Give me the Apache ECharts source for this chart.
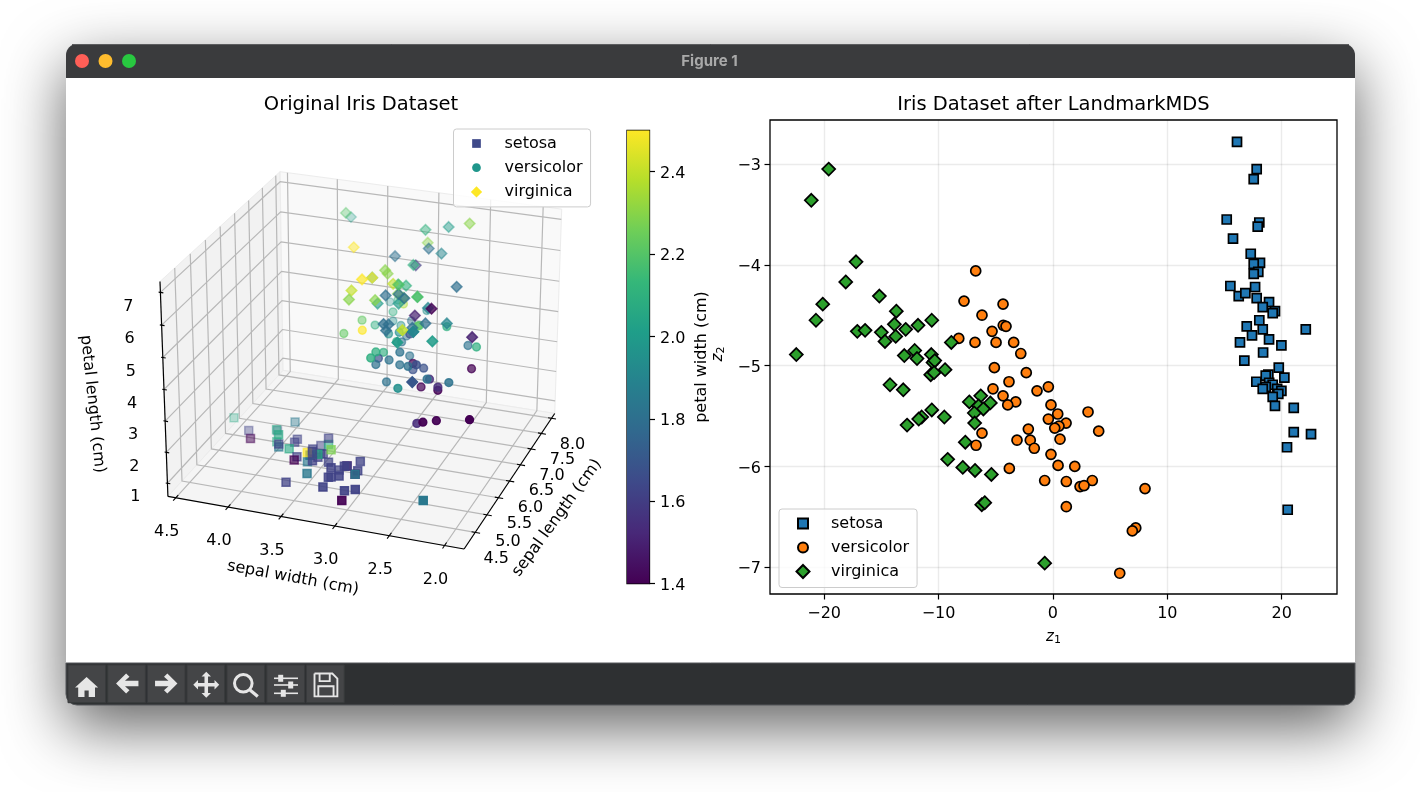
<!DOCTYPE html>
<html>
<head>
<meta charset="utf-8">
<style>html,body{margin:0;padding:0;background:#fff}#c{width:1420px;height:792px}</style>
<script src="https://cdn.jsdelivr.net/npm/echarts@6/dist/echarts.min.js"></script>
</head>
<body>
<div id="c"></div>
<script>
// ---------- data: [sepal length, sepal width, petal length, petal width]
const setosa3d = [[5.1,3.5,1.4,.2],[4.9,3,1.4,.2],[4.7,3.2,1.3,.2],[4.6,3.1,1.5,.2],[5,3.6,1.4,.2],[5.4,3.9,1.7,.4],[4.6,3.4,1.4,.3],[5,3.4,1.5,.2],[4.4,2.9,1.4,.2],[4.9,3.1,1.5,.1],[5.4,3.7,1.5,.2],[4.8,3.4,1.6,.2],[4.8,3,1.4,.1],[4.3,3,1.1,.1],[5.8,4,1.2,.2],[5.7,4.4,1.5,.4],[5.4,3.9,1.3,.4],[5.1,3.5,1.4,.3],[5.7,3.8,1.7,.3],[5.1,3.8,1.5,.3],[5.4,3.4,1.7,.2],[5.1,3.7,1.5,.4],[4.6,3.6,1,.2],[5.1,3.3,1.7,.5],[4.8,3.4,1.9,.2],[5,3,1.6,.2],[5,3.4,1.6,.4],[5.2,3.5,1.5,.2],[5.2,3.4,1.4,.2],[4.7,3.2,1.6,.2],[4.8,3.1,1.6,.2],[5.4,3.4,1.5,.4],[5.2,4.1,1.5,.1],[5.5,4.2,1.4,.2],[4.9,3.1,1.5,.2],[5,3.2,1.2,.2],[5.5,3.5,1.3,.2],[4.9,3.6,1.4,.1],[4.4,3,1.3,.2],[5.1,3.4,1.5,.2],[5,3.5,1.3,.3],[4.5,2.3,1.3,.3],[4.4,3.2,1.3,.2],[5,3.5,1.6,.6],[5.1,3.8,1.9,.4],[4.8,3,1.4,.3],[5.1,3.8,1.6,.2],[4.6,3.2,1.4,.2],[5.3,3.7,1.5,.2],[5,3.3,1.4,.2]];
const versicolor3d = [[7,3.2,4.7,1.4],[6.4,3.2,4.5,1.5],[6.9,3.1,4.9,1.5],[5.5,2.3,4,1.3],[6.5,2.8,4.6,1.5],[5.7,2.8,4.5,1.3],[6.3,3.3,4.7,1.6],[4.9,2.4,3.3,1],[6.6,2.9,4.6,1.3],[5.2,2.7,3.9,1.4],[5,2,3.5,1],[5.9,3,4.2,1.5],[6,2.2,4,1],[6.1,2.9,4.7,1.4],[5.6,2.9,3.6,1.3],[6.7,3.1,4.4,1.4],[5.6,3,4.5,1.5],[5.8,2.7,4.1,1],[6.2,2.2,4.5,1.5],[5.6,2.5,3.9,1.1],[5.9,3.2,4.8,1.8],[6.1,2.8,4,1.3],[6.3,2.5,4.9,1.5],[6.1,2.8,4.7,1.2],[6.4,2.9,4.3,1.3],[6.6,3,4.4,1.4],[6.8,2.8,4.8,1.4],[6.7,3,5,1.7],[6,2.9,4.5,1.5],[5.7,2.6,3.5,1],[5.5,2.4,3.8,1.1],[5.5,2.4,3.7,1],[5.8,2.7,3.9,1.2],[6,2.7,5.1,1.6],[5.4,3,4.5,1.5],[6,3.4,4.5,1.6],[6.7,3.1,4.7,1.5],[6.3,2.3,4.4,1.3],[5.6,3,4.1,1.3],[5.5,2.5,4,1.3],[5.5,2.6,4.4,1.2],[6.1,3,4.6,1.4],[5.8,2.6,4,1.2],[5,2.3,3.3,1],[5.6,2.7,4.2,1.3],[5.7,3,4.2,1.2],[5.7,2.9,4.2,1.3],[6.2,2.9,4.3,1.3],[5.1,2.5,3,1.1],[5.7,2.8,4.1,1.3]];
const virginica3d = [[6.3,3.3,6,2.5],[5.8,2.7,5.1,1.9],[7.1,3,5.9,2.1],[6.3,2.9,5.6,1.8],[6.5,3,5.8,2.2],[7.6,3,6.6,2.1],[4.9,2.5,4.5,1.7],[7.3,2.9,6.3,1.8],[6.7,2.5,5.8,1.8],[7.2,3.6,6.1,2.5],[6.5,3.2,5.1,2],[6.4,2.7,5.3,1.9],[6.8,3,5.5,2.1],[5.7,2.5,5,2],[5.8,2.8,5.1,2.4],[6.4,3.2,5.3,2.3],[6.5,3,5.5,1.8],[7.7,3.8,6.7,2.2],[7.7,2.6,6.9,2.3],[6,2.2,5,1.5],[6.9,3.2,5.7,2.3],[5.6,2.8,4.9,2],[7.7,2.8,6.7,2],[6.3,2.7,4.9,1.8],[6.7,3.3,5.7,2.1],[7.2,3.2,6,1.8],[6.2,2.8,4.8,1.8],[6.1,3,4.9,1.8],[6.4,2.8,5.6,2.1],[7.2,3,5.8,1.6],[7.4,2.8,6.1,1.9],[7.9,3.8,6.4,2],[6.4,2.8,5.6,2.2],[6.3,2.8,5.1,1.5],[6.1,2.6,5.6,1.4],[7.7,3,6.1,2.3],[6.3,3.4,5.6,2.4],[6.4,3.1,5.5,1.8],[6,3,4.8,1.8],[6.9,3.1,5.4,2.1],[6.7,3.1,5.6,2.4],[6.9,3.1,5.1,2.3],[5.8,2.7,5.1,1.9],[6.8,3.2,5.9,2.3],[6.7,3.3,5.7,2.5],[6.7,3,5.2,2.3],[6.3,2.5,5,1.9],[6.5,3,5.2,2],[6.2,3.4,5.4,2.3],[5.9,3,5.1,1.8]];

// ---------- data: [z1, z2] after LandmarkMDS
const setosaMds = [[16.09,-2.78],[17.81,-3.05],[17.55,-3.15],[15.19,-3.55],[18.04,-3.58],[17.9,-3.62],[15.74,-3.74],[17.29,-3.89],[18.1,-3.98],[17.55,-3.99],[17.95,-4.07],[17.55,-4.09],[15.51,-4.21],[17.67,-4.22],[16.24,-4.31],[16.82,-4.28],[17.81,-4.33],[18.89,-4.37],[18.34,-4.42],[19.41,-4.46],[19.21,-4.48],[18.04,-4.55],[16.94,-4.61],[18.34,-4.64],[22.1,-4.64],[17.4,-4.7],[18.89,-4.74],[16.35,-4.77],[19.97,-4.8],[18.37,-4.87],[16.73,-4.95],[19.74,-5.02],[18.83,-5.09],[18.6,-5.1],[20.23,-5.12],[17.78,-5.16],[18.9,-5.17],[19.21,-5.19],[18.6,-5.21],[18.34,-5.23],[19.6,-5.23],[19.97,-5.25],[19.7,-5.28],[19.21,-5.31],[19.41,-5.4],[21.05,-5.42],[21.05,-5.66],[22.56,-5.68],[20.46,-5.81],[20.52,-6.43]];
const versicolorMds = [[-6.75,-4.06],[-7.77,-4.36],[-4.36,-4.39],[-6.2,-4.5],[-4.34,-4.6],[-4.1,-4.61],[-5.32,-4.66],[-8.23,-4.73],[-6.81,-4.77],[-4.97,-4.77],[-3.43,-4.77],[-2.81,-4.88],[-5.12,-5.02],[-2.33,-5.07],[-3.84,-5.16],[-0.4,-5.21],[-5.24,-5.23],[-1.39,-5.25],[-4.36,-5.3],[-3.25,-5.36],[-3.95,-5.39],[-0.17,-5.39],[0.42,-5.48],[3.07,-5.46],[-0.4,-5.53],[1.15,-5.57],[0.53,-5.6],[0.16,-5.62],[-2.15,-5.63],[4,-5.65],[-6.2,-5.67],[-3.14,-5.74],[-1.98,-5.74],[0.62,-5.73],[-1.63,-5.82],[-6.72,-5.79],[-0.17,-5.88],[0.45,-5.99],[1.91,-6],[-3.81,-6.02],[-0.72,-6.14],[1.17,-6.15],[3.44,-6.14],[2.37,-6.2],[2.72,-6.19],[8.05,-6.22],[1.17,-6.4],[7.24,-6.61],[6.94,-6.64],[5.84,-7.06]];
const virginicaMds = [[-19.6,-3.05],[-21.12,-3.36],[-17.21,-3.97],[-18.11,-4.17],[-15.17,-4.31],[-20.12,-4.39],[-13.69,-4.46],[-20.71,-4.55],[-10.59,-4.55],[-11.79,-4.6],[-13.86,-4.59],[-12.87,-4.64],[-17.1,-4.66],[-16.42,-4.65],[-15,-4.67],[-13.74,-4.71],[-14.68,-4.76],[-8.88,-4.77],[-22.43,-4.89],[-12.99,-4.9],[-12.08,-4.85],[-11.88,-4.93],[-10.63,-4.89],[-10.48,-4.97],[-10.33,-4.95],[-9.43,-5.04],[-10.68,-5.09],[-10.39,-5.07],[-14.24,-5.19],[-13.08,-5.24],[-6.31,-5.3],[-7.31,-5.36],[-5.47,-5.37],[-6.5,-5.4],[-6.08,-5.43],[-6.87,-5.47],[-10.59,-5.44],[-9.49,-5.51],[-11.47,-5.51],[-11.73,-5.53],[-12.75,-5.59],[-6.84,-5.57],[-7.66,-5.76],[-9.2,-5.93],[-7.88,-6.01],[-6.81,-6.04],[-5.38,-6.08],[-6.22,-6.38],[-5.96,-6.36],[-0.72,-6.96]];

// ---------- tick labels and names
const classNames = ['setosa','versicolor','virginica'];
const xTicks3d = [4.5,5,5.5,6,6.5,7,7.5,8];
const yTicks3d = [2,2.5,3,3.5,4,4.5];
const zTicks3d = [1,2,3,4,5,6,7];
const colorbarTicks = [1.4,1.6,1.8,2,2.2,2.4];
const mdsXTicks = [-20,-10,0,10,20];
const mdsYTicks = [-7,-6,-5,-4,-3];

// ---------- style constants
const FONT = '"DejaVu Sans"';
const VIRIDIS = ['#440154','#482878','#3e4989','#31688e','#26828e','#1f9e89','#35b779','#6ece58','#b5de2b','#fde725'];
const LIM = {x:[4.0375,8.1625], y:[1.825,4.575], z:[0.57,7.33]};
const ELEV = 25*Math.PI/180, AZIM = -160*Math.PI/180, DIST = 10;
const BOX = [1.1906,1.1906,0.8929];

// viridis
function hex(c){return [1,3,5].map(i=>parseInt(c.slice(i,i+2),16));}
function viridis(t){
  t=Math.max(0,Math.min(1,t))*(VIRIDIS.length-1);
  const i=Math.min(Math.floor(t),VIRIDIS.length-2),f=t-i,a=hex(VIRIDIS[i]),b=hex(VIRIDIS[i+1]);
  return a.map((v,k)=>Math.round(v+(b[k]-v)*f));
}
// matplotlib-style perspective projection
const R=BOX.map(b=>b/2);
const W=[Math.cos(ELEV)*Math.cos(AZIM),Math.cos(ELEV)*Math.sin(AZIM),Math.sin(ELEV)];
const EYE=R.map((r,i)=>r+DIST*W[i]);
const un=Math.hypot(W[0],W[1]);
const U=[-W[1]/un,W[0]/un,0];
const V=[W[1]*U[2]-W[2]*U[1],W[2]*U[0]-W[0]*U[2],W[0]*U[1]-W[1]*U[0]];
function proj(x,y,z){
  const p=[(x-LIM.x[0])/(LIM.x[1]-LIM.x[0])*BOX[0],(y-LIM.y[0])/(LIM.y[1]-LIM.y[0])*BOX[1],(z-LIM.z[0])/(LIM.z[1]-LIM.z[0])*BOX[2]];
  const d=p.map((v,i)=>v-EYE[i]);
  const dot=a=>a[0]*d[0]+a[1]*d[1]+a[2]*d[2];
  const depth=-dot(W);
  return [dot(U)/depth,dot(V)/depth,depth];
}
// projected bounding box of the 3D box sets the hidden cartesian's range
const corners=[];
LIM.x.forEach(x=>LIM.y.forEach(y=>LIM.z.forEach(z=>corners.push(proj(x,y,z)))));
const pxMin=Math.min(...corners.map(c=>c[0])),pxMax=Math.max(...corners.map(c=>c[0]));
const pyMin=Math.min(...corners.map(c=>c[1])),pyMax=Math.max(...corners.map(c=>c[1]));

function scatterData(rows){
  const pw=rows.map(r=>r[3]),lo=Math.min(...pw),hi=Math.max(...pw);
  const pts=rows.map(r=>({p:proj(r[0],r[1],r[2]),c:(r[3]-lo)/(hi-lo)}));
  const ds=pts.map(o=>o.p[2]),dlo=Math.min(...ds),dhi=Math.max(...ds);
  pts.sort((a,b)=>b.p[2]-a.p[2]);
  return pts.map(o=>{
    const a=1-0.7*(o.p[2]-dlo)/(dhi-dlo),col=viridis(o.c);
    const s=`rgba(${col[0]},${col[1]},${col[2]},${a.toFixed(3)})`;
    return {value:[o.p[0],o.p[1]],itemStyle:{color:s,borderColor:s}};
  });
}

function renderBox(params,api){
  const c=(x,y,z)=>{const p=proj(x,y,z);return api.coord([p[0],p[1]]);};
  const [x0,x1]=LIM.x,[y0,y1]=LIM.y,[z0,z1]=LIM.z;
  const ch=[];
  const poly=(pts,fill)=>ch.push({type:'polygon',shape:{points:pts},style:{fill,stroke:'#ececec',lineWidth:1}});
  const line=(pts,stroke,w)=>ch.push({type:'polyline',shape:{points:pts},style:{fill:'none',stroke,lineWidth:w}});
  const text=(t,p,dx,dy)=>ch.push({type:'text',style:{text:t,x:p[0]+dx,y:p[1]+dy,fill:'#000',font:'16px '+FONT,align:'center',verticalAlign:'middle'}});
  const GRID='#b8b8b8';
  poly([c(x0,y1,z0),c(x1,y1,z0),c(x1,y1,z1),c(x0,y1,z1)],'#f2f2f2');
  poly([c(x1,y0,z0),c(x1,y1,z0),c(x1,y1,z1),c(x1,y0,z1)],'#f9f9f9');
  poly([c(x0,y0,z0),c(x1,y0,z0),c(x1,y1,z0),c(x0,y1,z0)],'#f5f5f5');
  xTicks3d.forEach(x=>line([c(x,y0,z0),c(x,y1,z0),c(x,y1,z1)],GRID,1.2));
  yTicks3d.forEach(y=>line([c(x0,y,z0),c(x1,y,z0),c(x1,y,z1)],GRID,1.2));
  zTicks3d.forEach(z=>line([c(x0,y1,z),c(x1,y1,z),c(x1,y0,z)],GRID,1.2));
  line([c(x0,y0,z0),c(x1,y0,z0)],'#000',1.2);
  line([c(x0,y0,z0),c(x0,y1,z0)],'#000',1.2);
  line([c(x0,y1,z0),c(x0,y1,z1)],'#000',1.2);
  const dy=y1-y0,dx=x1-x0;
  xTicks3d.forEach(x=>{line([c(x,y0-0.016*dy,z0),c(x,y0+0.012*dy,z0)],'#000',1.1);text(x.toFixed(1),c(x,y0,z0),21,26.5);});
  yTicks3d.forEach(y=>{line([c(x0-0.02*dx,y,z0),c(x0+0.02*dx,y,z0)],'#000',1.1);text(y.toFixed(1),c(x0,y,z0),-9,34);});
  zTicks3d.forEach(z=>{line([c(x0,y1+0.006*dy,z),c(x0,y1-0.01*dy,z)],'#000',1.1);text(String(z),c(x0,y1,z),-32,14);});
  return {type:'group',children:ch};
}

// ---------- legend icons (padded so every marker keeps its own size inside the same slot)
const PAD='path://M0,0M16,16';
const iconRect=s=>{const a=8-s/2,b=8+s/2;return `${PAD}M${a},${a}L${b},${a}L${b},${b}L${a},${b}Z`;};
const iconDiamond=s=>{const r=s/2;return `${PAD}M8,${8-r}L${8+r},8L8,${8+r}L${8-r},8Z`;};
const iconCircle=s=>{const r=s/2;return `${PAD}M${8-r},8A${r},${r},0,1,1,${8+r},8A${r},${r},0,1,1,${8-r},8Z`;};
const legendBase={orient:'vertical',itemWidth:46,itemHeight:16,borderColor:'#ccc',borderWidth:1,borderRadius:3,backgroundColor:'rgba(255,255,255,0.8)',selectedMode:false,
  textStyle:{fontFamily:FONT,fontSize:16,color:'#000'},formatter:n=>n.replace('3D ','')};

const axisText={fontFamily:FONT,fontSize:16,color:'#000'};
const lowered={a:{fontFamily:FONT,fontSize:16,color:'#000',padding:[4,0,0,0]}};
const minus=v=>String(v).replace('-','\u2212');
const subRich={i:{fontFamily:FONT,fontSize:15,fontStyle:'italic',color:'#000'},s:{fontFamily:FONT,fontSize:11,color:'#000',verticalAlign:'bottom',padding:[6,0,0,0]}};

const series=[
  {type:'custom',xAxisIndex:0,yAxisIndex:0,data:[0],renderItem:renderBox,z:1,silent:true,clip:false,animation:false},
  {name:'3D setosa',type:'scatter',xAxisIndex:0,yAxisIndex:0,symbol:'rect',symbolSize:8,z:3,silent:true,itemStyle:{borderWidth:1.5,opacity:1},data:scatterData(setosa3d)},
  {name:'3D versicolor',type:'scatter',xAxisIndex:0,yAxisIndex:0,symbol:'circle',symbolSize:7.8,z:3,silent:true,itemStyle:{borderWidth:1.5,opacity:1},data:scatterData(versicolor3d)},
  {name:'3D virginica',type:'scatter',xAxisIndex:0,yAxisIndex:0,symbol:'diamond',symbolSize:10.6,z:3,silent:true,itemStyle:{borderWidth:1.5,opacity:1},data:scatterData(virginica3d)},
  {name:classNames[0],type:'scatter',xAxisIndex:1,yAxisIndex:1,symbol:'rect',symbolSize:9,z:3,silent:true,itemStyle:{color:'#1f77b4',borderColor:'#000',borderWidth:1.7,opacity:1},data:setosaMds},
  {name:classNames[1],type:'scatter',xAxisIndex:1,yAxisIndex:1,symbol:'circle',symbolSize:10,z:3,silent:true,itemStyle:{color:'#ff7f0e',borderColor:'#000',borderWidth:1.7,opacity:1},data:versicolorMds},
  {name:classNames[2],type:'scatter',xAxisIndex:1,yAxisIndex:1,symbol:'diamond',symbolSize:13,z:3,silent:true,itemStyle:{color:'#2ca02c',borderColor:'#000',borderWidth:1.7,opacity:1},data:virginicaMds},
  {type:'bar',xAxisIndex:2,yAxisIndex:2,data:[2.5],barWidth:'100%',z:1,silent:true,itemStyle:{color:{type:'linear',x:0,y:1,x2:0,y2:0,colorStops:VIRIDIS.map((c,i)=>({offset:i/(VIRIDIS.length-1),color:c}))}}}
];

// ---------- window chrome
const BTN_X=[68,107.7,147.3,187,227,266.8,306.5];
const ICON='#e6e6e6';
const scalePts=(pts,x,y,s)=>pts.map(p=>[x+p[0]*s,y+p[1]*s]);
const HOME=[[12,3],[1,13],[4,13],[4,22],[10,22],[10,16],[14,16],[14,22],[20,22],[20,13],[23,13]];
const LEFT=[[11,3],[2,12],[11,21],[14,18],[10,14.5],[22,14.5],[22,9.5],[10,9.5],[14,6]];
const RIGHT=[[13,3],[22,12],[13,21],[10,18],[14,14.5],[2,14.5],[2,9.5],[14,9.5],[10,6]];
const MOVE=[[12,1],[16,5],[13.5,5],[13.5,10.5],[19,10.5],[19,8],[23,12],[19,16],[19,13.5],[13.5,13.5],[13.5,19],[16,19],[12,23],[8,19],[10.5,19],[10.5,13.5],[5,13.5],[5,16],[1,12],[5,8],[5,10.5],[10.5,10.5],[10.5,5],[8,5]];
const SAVE=[[3,3],[17,3],[21,7],[21,21],[3,21],[3,3]];
const SAVE_TOP=[[7,3],[7,9],[15,9],[15,3]];
const SAVE_BOT=[[6,21],[6,13],[18,13],[18,21]];
const filled=(pts,x,y,s)=>({type:'polygon',z:-5,silent:true,shape:{points:scalePts(pts,x,y,s)},style:{fill:ICON}});
const stroked=(pts,x,y,s)=>({type:'polyline',z:-5,silent:true,shape:{points:scalePts(pts,x,y,s)},style:{fill:'none',stroke:ICON,lineWidth:1.9}});
const graphic=[
  {type:'rect',z:-10,silent:true,shape:{x:66,y:44,width:1289,height:661,r:11},style:{fill:'#fff',shadowBlur:62,shadowOffsetY:22,shadowColor:'rgba(0,0,0,0.62)'}},
  {type:'rect',z:-9,silent:true,shape:{x:66,y:44,width:1289,height:34,r:[11,11,0,0]},style:{fill:'#3a3b3d'}},
  {type:'rect',z:-9,silent:true,shape:{x:66,y:663,width:1289,height:42,r:[0,0,11,11]},style:{fill:'#2e3032',stroke:'#55575a',lineWidth:1}},
  {type:'line',z:-8,silent:true,shape:{x1:72,y1:44.5,x2:1349,y2:44.5},style:{stroke:'#5c5d5f',lineWidth:1}},
  {type:'circle',z:-8,silent:true,shape:{cx:82,cy:61,r:7},style:{fill:'#ff5f57'}},
  {type:'circle',z:-8,silent:true,shape:{cx:105.5,cy:61,r:7},style:{fill:'#febc2e'}},
  {type:'circle',z:-8,silent:true,shape:{cx:129,cy:61,r:7},style:{fill:'#28c840'}},
  {type:'text',z:-8,silent:true,x:709.5,y:61,style:{text:'Figure 1',fill:'#a9a9a9',font:'bold 15px Inter',align:'center',verticalAlign:'middle'}},
  ...BTN_X.map(x=>({type:'rect',z:-8,silent:true,shape:{x,y:665,width:37.7,height:37.7},style:{fill:'#444547',stroke:'#383a3c',lineWidth:1}})),
  filled(HOME,74,673.8,1.05),
  filled(LEFT,113.8,670.1,1.12),
  filled(RIGHT,152.8,670.1,1.12),
  filled(MOVE,192.1,670.5,1.18),
  {type:'circle',z:-5,silent:true,shape:{cx:243.3,cy:683.3,r:8.8},style:{fill:'none',stroke:ICON,lineWidth:3}},
  {type:'line',z:-5,silent:true,shape:{x1:250,y1:690,x2:257.8,y2:696.5},style:{stroke:ICON,lineWidth:3.2}},
  ...[[678.3,280.7],[685,290.7],[693.3,283.3]].flatMap(([y,x])=>[
    {type:'line',z:-5,silent:true,shape:{x1:274,y1:y,x2:298,y2:y},style:{stroke:ICON,lineWidth:1.6}},
    {type:'rect',z:-5,silent:true,shape:{x:x-2.5,y:y-3.5,width:5,height:7},style:{fill:ICON}}]),
  stroked(SAVE,310.7,669.7,1.27),stroked(SAVE_TOP,310.7,669.7,1.27),stroked(SAVE_BOT,310.7,669.7,1.27),
  // 3D axis titles
  {type:'text',z:5,silent:true,x:92.5,y:404,rotation:-84*Math.PI/180,style:{text:'petal length (cm)',fill:'#000',font:'16px '+FONT,align:'center',verticalAlign:'middle'}},
  {type:'text',z:5,silent:true,x:293,y:578,rotation:-10.4*Math.PI/180,style:{text:'sepal width (cm)',fill:'#000',font:'16px '+FONT,align:'center',verticalAlign:'middle'}},
  {type:'text',z:5,silent:true,x:557,y:518,rotation:54*Math.PI/180,style:{text:'sepal length (cm)',fill:'#000',font:'16px '+FONT,align:'center',verticalAlign:'middle'}}
];

const option={
  animation:false,
  backgroundColor:'#fff',
  title:[
    {text:'Original Iris Dataset',left:356,top:90,textAlign:'center',textStyle:{fontFamily:FONT,fontSize:19.5,fontWeight:'normal',color:'#000'}},
    {text:'Iris Dataset after LandmarkMDS',left:1048.5,top:90,textAlign:'center',textStyle:{fontFamily:FONT,fontSize:19.5,fontWeight:'normal',color:'#000'}}
  ],
  legend:[
    {...legendBase,left:453.5,top:129,padding:[6.5,8,7,15],itemGap:8.2,data:[
      {name:'3D setosa',icon:iconRect(8.7),itemStyle:{color:'#3e4989',borderWidth:0,opacity:1}},
      {name:'3D versicolor',icon:iconCircle(8.7),itemStyle:{color:'#1f968b',borderWidth:0,opacity:1}},
      {name:'3D virginica',icon:iconDiamond(11.3),itemStyle:{color:'#fde725',borderWidth:0,opacity:1}}]},
    {...legendBase,left:779,top:509,padding:[5.5,8,7,15],itemGap:6,data:[
      {name:classNames[0],icon:iconRect(10)},
      {name:classNames[1],icon:iconCircle(10)},
      {name:classNames[2],icon:iconDiamond(13)}]}
  ],
  grid:[
    {left:160,top:171.7,width:401.7,height:377.3},
    {left:770,top:120,width:567,height:474,show:true,borderColor:'#000',borderWidth:1.3,backgroundColor:'#fff'},
    {left:627,top:130.5,width:22.5,height:453,show:true,borderColor:'#000',borderWidth:1.3}
  ],
  xAxis:[
    {gridIndex:0,type:'value',show:false,min:pxMin,max:pxMax,scale:true},
    {gridIndex:1,type:'value',min:-24.73,max:24.83,
      axisLine:{show:false,onZero:false},
      axisTick:{show:true,length:5.5,customValues:mdsXTicks,lineStyle:{color:'#000',width:1.2}},
      axisLabel:{customValues:mdsXTicks,formatter:minus,margin:12,...axisText},
      splitLine:{show:true,lineStyle:{color:'rgba(0,0,0,0.08)',width:1.4}},
      name:'{i|z}{s|1}',nameLocation:'middle',nameGap:35,nameTextStyle:{rich:subRich}},
    {gridIndex:2,type:'category',data:['c'],show:false}
  ],
  yAxis:[
    {gridIndex:0,type:'value',show:false,min:pyMin,max:pyMax,scale:true},
    {gridIndex:1,type:'value',min:-7.266,max:-2.563,
      axisLine:{show:false,onZero:false},
      axisTick:{show:true,length:5.5,customValues:mdsYTicks,lineStyle:{color:'#000',width:1.2}},
      axisLabel:{customValues:mdsYTicks,formatter:v=>`{a|${minus(v)}}`,margin:9,...axisText,rich:lowered},
      splitLine:{show:true,lineStyle:{color:'rgba(0,0,0,0.08)',width:1.4}},
      name:'{i|z}{s|2}',nameLocation:'middle',nameRotate:90,nameGap:43,nameTextStyle:{rich:subRich,padding:[0,0,0,6]}},
    {gridIndex:2,type:'value',position:'right',min:1.4,max:2.5,
      axisLine:{show:false,onZero:false},
      axisTick:{show:true,length:5.5,customValues:colorbarTicks,lineStyle:{color:'#000',width:1.2}},
      axisLabel:{customValues:colorbarTicks,formatter:v=>`{a|${v.toFixed(1)}}`,margin:10.5,...axisText,rich:lowered},
      splitLine:{show:false},
      name:'petal width (cm)',nameLocation:'middle',nameRotate:90,nameGap:44,nameTextStyle:{...axisText}}
  ],
  graphic:graphic,
  series:series
};
echarts.init(document.getElementById('c'),null,{renderer:'canvas'}).setOption(option);
</script>
</body>
</html>
